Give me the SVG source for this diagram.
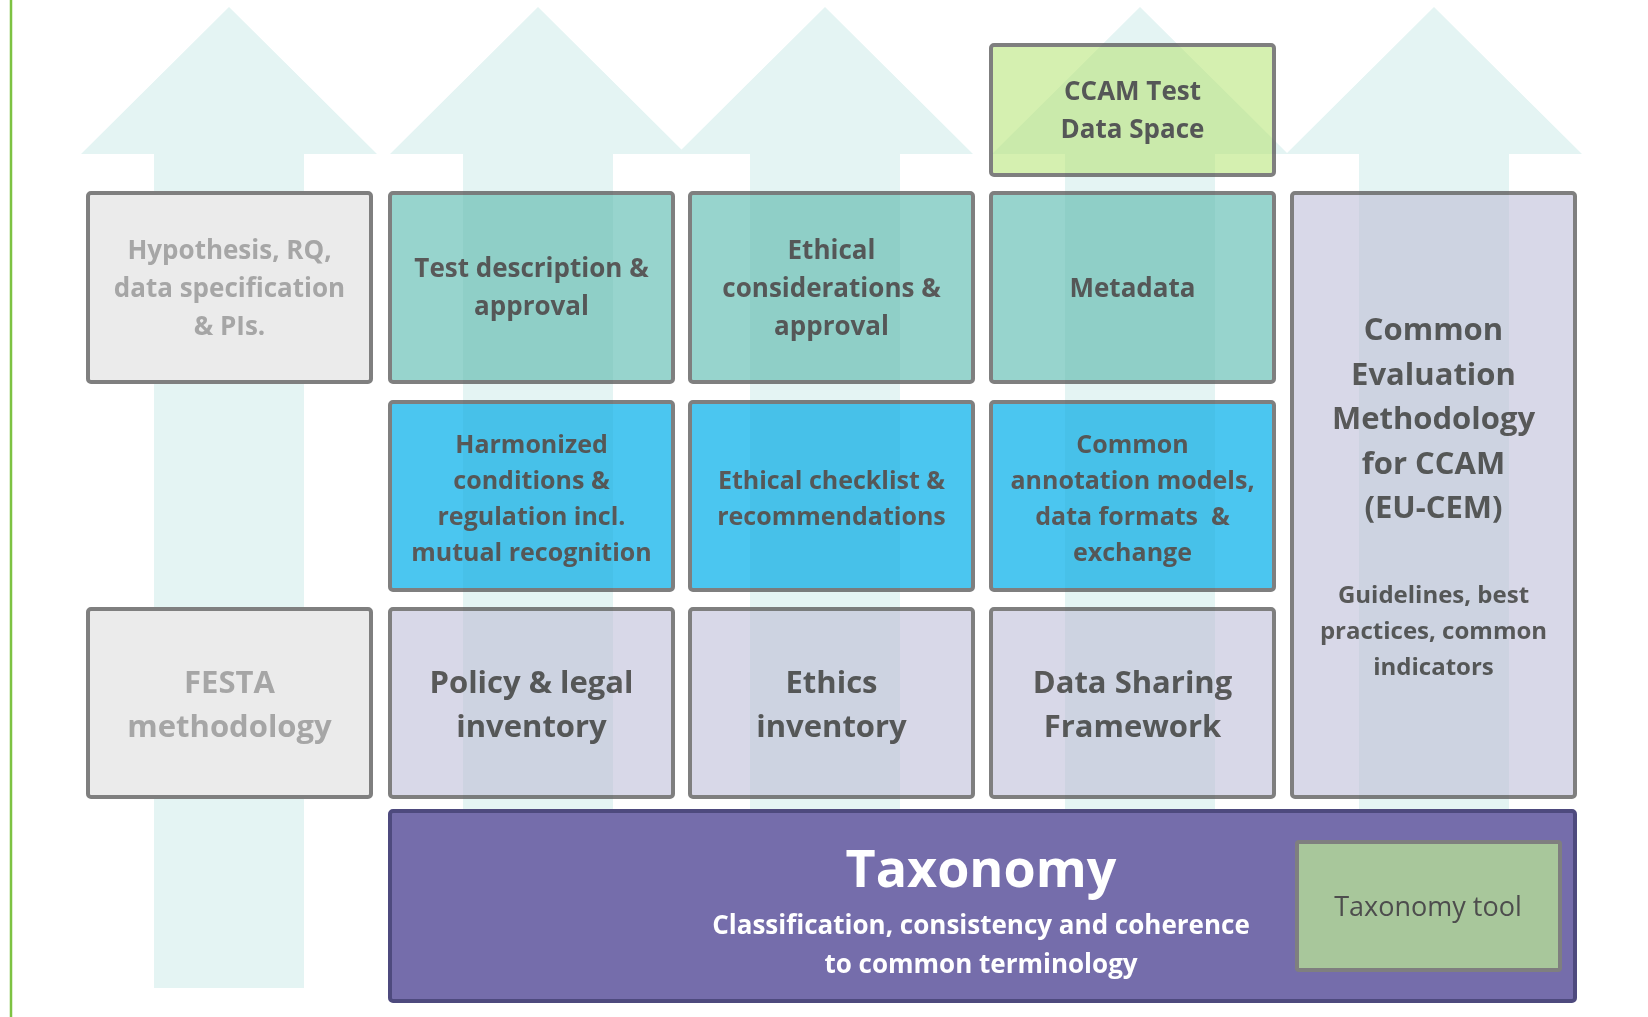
<svg xmlns="http://www.w3.org/2000/svg" width="1648" height="1017" viewBox="0 0 1648 1017">
<style>
.box{stroke:#7F7F7F;stroke-width:4}
.teal{fill:#97D4CD}
.blue{fill:#4BC6F0}
.lav{fill:#D8D8E8}
.grey{fill:#EBEBEB}
.lime{fill:#D5F0B0}
.t{font-family:"Open Sans","Liberation Sans",sans-serif;font-weight:bold;fill:#595959;text-anchor:middle}
.tg{fill:#A6A6A6}
.w{fill:#FFFFFF}
.s26{font-size:26px}
.s25{font-size:25px}
.s31{font-size:31px}
.s24{font-size:24px}
.aback{fill:#F1FAFA}
.aover{fill:#F2F9F8;mix-blend-mode:multiply}
</style>
<defs>
<path id="a1" d="M229 7 L377 154 L304 154 L304 988 L154 988 L154 154 L81 154 Z"/>
<path id="a2" d="M538 7 L686 154 L613 154 L613 988 L463 988 L463 154 L390 154 Z"/>
<path id="a3" d="M825 7 L973 154 L900 154 L900 988 L750 988 L750 154 L677 154 Z"/>
<path id="a4" d="M1140 7 L1288 154 L1215 154 L1215 988 L1065 988 L1065 154 L992 154 Z"/>
<path id="a5" d="M1434 7 L1582 154 L1509 154 L1509 988 L1359 988 L1359 154 L1286 154 Z"/>
</defs>
<rect x="0" y="0" width="1648" height="1017" fill="#FFFFFF"/>
<line x1="11" y1="0" x2="11" y2="1017" stroke="#7DC242" stroke-width="2.5"/>

<g id="arrows-back" class="aback">
<use href="#a1"/><use href="#a2"/><use href="#a3"/><use href="#a4"/><use href="#a5"/>
</g>

<g id="ccam">
<rect class="box lime" x="991" y="45" width="283" height="130" rx="3"/>
<text class="t s26" x="1132.5" y="100">CCAM Test</text>
<text class="t s26" x="1132.5" y="138">Data Space</text>
</g>
<g id="test-description">
<rect class="box teal" x="390" y="193" width="283" height="189" rx="3"/>
<text class="t s26" x="531.5" y="277">Test description &amp;</text>
<text class="t s26" x="531.5" y="315">approval</text>
</g>
<g id="ethical-considerations">
<rect class="box teal" x="690" y="193" width="283" height="189" rx="3"/>
<text class="t s26" x="831.5" y="259">Ethical</text>
<text class="t s26" x="831.5" y="297">considerations &amp;</text>
<text class="t s26" x="831.5" y="335">approval</text>
</g>
<g id="metadata">
<rect class="box teal" x="991" y="193" width="283" height="189" rx="3"/>
<text class="t s26" x="1132.5" y="297">Metadata</text>
</g>
<g id="eu-cem">
<rect class="box lav" x="1292" y="193" width="283" height="604" rx="3"/>
<text class="t s31" x="1433.5" y="340">Common</text>
<text class="t s31" x="1433.5" y="384.5">Evaluation</text>
<text class="t s31" x="1433.5" y="429">Methodology</text>
<text class="t s31" x="1433.5" y="473.5">for CCAM</text>
<text class="t s31" x="1433.5" y="518">(EU-CEM)</text>
<text class="t s24" x="1433.5" y="603">Guidelines, best</text>
<text class="t s24" x="1433.5" y="639">practices, common</text>
<text class="t s24" x="1433.5" y="675">indicators</text>
</g>
<g id="harmonized-conditions">
<rect class="box blue" x="390" y="402" width="283" height="188" rx="3"/>
<text class="t s25" x="531.5" y="453">Harmonized</text>
<text class="t s25" x="531.5" y="489">conditions &amp;</text>
<text class="t s25" x="531.5" y="525">regulation incl.</text>
<text class="t s25" x="531.5" y="561">mutual recognition</text>
</g>
<g id="ethical-checklist">
<rect class="box blue" x="690" y="402" width="283" height="188" rx="3"/>
<text class="t s25" x="831.5" y="489">Ethical checklist &amp;</text>
<text class="t s25" x="831.5" y="525">recommendations</text>
</g>
<g id="annotation-models">
<rect class="box blue" x="991" y="402" width="283" height="188" rx="3"/>
<text class="t s25" x="1132.5" y="453">Common</text>
<text class="t s25" x="1132.5" y="489">annotation models,</text>
<text class="t s25" x="1132.5" y="525" xml:space="preserve">data formats  &amp;</text>
<text class="t s25" x="1132.5" y="561">exchange</text>
</g>
<g id="policy-legal">
<rect class="box lav" x="390" y="609" width="283" height="188" rx="3"/>
<text class="t s31" x="531.5" y="693">Policy &amp; legal</text>
<text class="t s31" x="531.5" y="737">inventory</text>
</g>
<g id="ethics-inventory">
<rect class="box lav" x="690" y="609" width="283" height="188" rx="3"/>
<text class="t s31" x="831.5" y="693">Ethics</text>
<text class="t s31" x="831.5" y="737">inventory</text>
</g>
<g id="data-sharing">
<rect class="box lav" x="991" y="609" width="283" height="188" rx="3"/>
<text class="t s31" x="1132.5" y="693">Data Sharing</text>
<text class="t s31" x="1132.5" y="737">Framework</text>
</g>

<g id="arrows-overlay" class="aover">
<use href="#a1"/><use href="#a2"/><use href="#a3"/><use href="#a4"/><use href="#a5"/>
</g>

<g id="hypothesis">
<rect class="box grey" x="88" y="193" width="283" height="189" rx="3"/>
<text class="t tg s26" x="229.5" y="259">Hypothesis, RQ,</text>
<text class="t tg s26" x="229.5" y="297">data specification</text>
<text class="t tg s26" x="229.5" y="335">&amp; PIs.</text>
</g>
<g id="festa">
<rect class="box grey" x="88" y="609" width="283" height="188" rx="3"/>
<text class="t tg s31" x="229.5" y="693">FESTA</text>
<text class="t tg s31" x="229.5" y="737">methodology</text>
</g>
<g id="taxonomy">
<rect x="390" y="811" width="1185" height="190" rx="3" fill="#756DAB" stroke="#4E4A7E" stroke-width="4"/>
<text class="t w" x="981" y="887" style="font-size:52px">Taxonomy</text>
<text class="t w s26" x="981" y="934">Classification, consistency and coherence</text>
<text class="t w s26" x="981" y="973">to common terminology</text>
</g>
<g id="taxonomy-tool">
<rect class="box" x="1297" y="842" width="263" height="128" rx="2" fill="#A8C79B"/>
<text class="t" x="1428" y="916" style="font-weight:normal;font-size:27px;fill:#4D4D4D">Taxonomy tool</text>
</g>
</svg>
